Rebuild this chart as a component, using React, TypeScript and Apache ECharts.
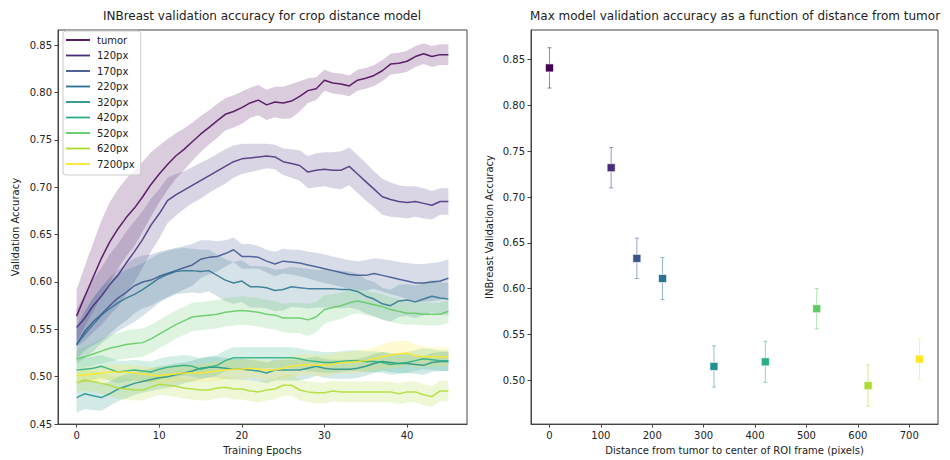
import React, { useEffect, useRef } from "react";
import * as echarts from "echarts";

const FONT = "DejaVu Sans";

const seriesNames = ["tumor", "120px", "170px", "220px", "320px", "420px", "520px", "620px", "7200px"];
const colors = ["#440154", "#472c7a", "#3b528b", "#2c728e", "#21918c", "#28ae80", "#5ec962", "#addc30", "#fde725"];

const tumorMean = [0.564,0.585,0.605,0.625,0.642,0.656,0.668,0.678,0.690,0.703,0.714,0.724,0.733,0.740,0.748,0.756,0.763,0.770,0.777,0.780,0.784,0.789,0.792,0.787,0.790,0.789,0.791,0.796,0.802,0.804,0.813,0.810,0.809,0.807,0.813,0.815,0.818,0.823,0.830,0.831,0.833,0.838,0.841,0.838,0.840,0.840];
const px120Mean = [0.552,0.562,0.575,0.585,0.597,0.607,0.620,0.632,0.645,0.660,0.672,0.686,0.692,0.697,0.702,0.707,0.712,0.717,0.722,0.727,0.730,0.731,0.732,0.733,0.732,0.727,0.725,0.723,0.716,0.718,0.719,0.718,0.718,0.722,0.714,0.706,0.698,0.690,0.687,0.685,0.684,0.685,0.683,0.681,0.685,0.685];
const px170Mean = [0.534,0.548,0.558,0.566,0.575,0.583,0.589,0.596,0.600,0.602,0.606,0.609,0.612,0.615,0.618,0.624,0.626,0.627,0.630,0.634,0.627,0.627,0.626,0.622,0.619,0.622,0.621,0.620,0.618,0.616,0.614,0.612,0.610,0.608,0.607,0.607,0.609,0.607,0.605,0.603,0.601,0.599,0.599,0.600,0.601,0.604];
const px220Mean = [0.534,0.545,0.555,0.565,0.572,0.578,0.583,0.587,0.592,0.598,0.604,0.608,0.611,0.612,0.612,0.611,0.612,0.607,0.602,0.599,0.601,0.595,0.595,0.594,0.591,0.592,0.595,0.594,0.593,0.593,0.593,0.593,0.592,0.592,0.590,0.585,0.582,0.577,0.575,0.580,0.581,0.579,0.582,0.585,0.583,0.582];
const px320Mean = [0.478,0.482,0.480,0.478,0.482,0.487,0.490,0.493,0.495,0.497,0.499,0.500,0.502,0.504,0.506,0.509,0.510,0.510,0.509,0.508,0.508,0.507,0.506,0.504,0.507,0.507,0.507,0.507,0.509,0.511,0.509,0.508,0.508,0.508,0.509,0.511,0.514,0.516,0.515,0.514,0.514,0.513,0.512,0.515,0.516,0.516];
const px420Mean = [0.507,0.508,0.509,0.511,0.508,0.505,0.506,0.507,0.506,0.505,0.508,0.510,0.511,0.512,0.511,0.508,0.510,0.512,0.517,0.520,0.520,0.520,0.520,0.520,0.520,0.520,0.520,0.519,0.517,0.516,0.515,0.515,0.516,0.517,0.517,0.516,0.516,0.515,0.513,0.514,0.515,0.517,0.519,0.518,0.517,0.517];
const px520Mean = [0.519,0.521,0.524,0.527,0.530,0.532,0.534,0.535,0.536,0.540,0.545,0.550,0.555,0.559,0.563,0.564,0.565,0.566,0.568,0.569,0.570,0.569,0.568,0.566,0.565,0.562,0.562,0.562,0.560,0.563,0.571,0.573,0.575,0.578,0.580,0.578,0.576,0.574,0.571,0.569,0.567,0.567,0.566,0.566,0.566,0.569];
const px620Mean = [0.494,0.496,0.495,0.493,0.491,0.488,0.487,0.486,0.486,0.489,0.492,0.491,0.490,0.488,0.487,0.486,0.486,0.488,0.489,0.487,0.487,0.485,0.484,0.486,0.487,0.491,0.491,0.486,0.484,0.483,0.483,0.485,0.484,0.484,0.484,0.484,0.484,0.484,0.484,0.482,0.484,0.484,0.481,0.479,0.485,0.485];
const px7200Mean = [0.501,0.502,0.503,0.504,0.505,0.505,0.505,0.504,0.503,0.502,0.501,0.502,0.503,0.504,0.504,0.504,0.505,0.506,0.507,0.508,0.508,0.509,0.508,0.507,0.507,0.509,0.511,0.512,0.513,0.512,0.512,0.513,0.515,0.515,0.516,0.517,0.519,0.521,0.523,0.524,0.525,0.522,0.521,0.521,0.521,0.521];

const tumorSpread = [0.028,0.032,0.036,0.040,0.042,0.042,0.041,0.040,0.037,0.034,0.030,0.027,0.024,0.022,0.020,0.019,0.018,0.018,0.017,0.017,0.017,0.016,0.016,0.016,0.016,0.017,0.018,0.016,0.013,0.012,0.011,0.011,0.011,0.011,0.011,0.011,0.011,0.011,0.011,0.011,0.011,0.011,0.011,0.011,0.011,0.011];
const px120Spread = [0.020,0.024,0.028,0.030,0.032,0.033,0.033,0.032,0.030,0.028,0.026,0.024,0.022,0.020,0.019,0.019,0.018,0.018,0.018,0.017,0.016,0.015,0.014,0.013,0.013,0.014,0.015,0.016,0.017,0.018,0.018,0.019,0.020,0.020,0.020,0.020,0.019,0.019,0.018,0.017,0.017,0.016,0.016,0.015,0.014,0.014];
const px170Spread = [0.015,0.020,0.025,0.028,0.030,0.030,0.030,0.029,0.028,0.027,0.026,0.025,0.024,0.023,0.022,0.020,0.018,0.016,0.014,0.013,0.013,0.013,0.012,0.012,0.013,0.013,0.013,0.014,0.014,0.015,0.015,0.015,0.015,0.015,0.015,0.016,0.016,0.017,0.018,0.018,0.019,0.020,0.020,0.020,0.020,0.020];
const px220Spread = [0.020,0.025,0.028,0.030,0.030,0.030,0.030,0.029,0.028,0.027,0.026,0.025,0.024,0.024,0.023,0.023,0.022,0.022,0.022,0.022,0.022,0.022,0.022,0.022,0.022,0.022,0.021,0.021,0.021,0.020,0.020,0.020,0.020,0.019,0.019,0.018,0.018,0.017,0.017,0.017,0.017,0.017,0.017,0.017,0.017,0.017];
const px320Spread = [0.016,0.016,0.015,0.014,0.013,0.013,0.013,0.012,0.012,0.012,0.012,0.012,0.012,0.011,0.011,0.011,0.011,0.011,0.011,0.011,0.011,0.011,0.011,0.011,0.011,0.011,0.011,0.011,0.011,0.010,0.010,0.010,0.010,0.010,0.010,0.010,0.010,0.010,0.010,0.010,0.010,0.010,0.010,0.010,0.010,0.010];
const px420Spread = [0.012,0.012,0.012,0.012,0.012,0.012,0.011,0.011,0.011,0.011,0.011,0.011,0.011,0.011,0.011,0.011,0.011,0.011,0.011,0.011,0.011,0.011,0.011,0.011,0.011,0.011,0.011,0.011,0.011,0.011,0.011,0.011,0.011,0.011,0.011,0.011,0.011,0.011,0.011,0.011,0.011,0.011,0.011,0.011,0.011,0.011];
const px520Spread = [0.010,0.011,0.012,0.013,0.014,0.014,0.015,0.015,0.015,0.015,0.015,0.015,0.015,0.015,0.015,0.015,0.015,0.015,0.015,0.015,0.015,0.015,0.015,0.015,0.015,0.015,0.016,0.016,0.017,0.016,0.015,0.014,0.014,0.013,0.013,0.013,0.013,0.013,0.013,0.013,0.012,0.012,0.012,0.012,0.012,0.012];
const px620Spread = [0.011,0.011,0.011,0.011,0.011,0.011,0.011,0.011,0.011,0.011,0.011,0.011,0.011,0.011,0.011,0.011,0.011,0.011,0.011,0.011,0.011,0.011,0.011,0.011,0.011,0.011,0.011,0.011,0.011,0.011,0.011,0.011,0.011,0.011,0.011,0.011,0.011,0.011,0.011,0.011,0.011,0.011,0.011,0.011,0.011,0.011];
const px7200Spread = [0.008,0.008,0.008,0.008,0.008,0.008,0.008,0.008,0.008,0.008,0.009,0.009,0.009,0.009,0.009,0.009,0.010,0.010,0.010,0.010,0.010,0.010,0.010,0.010,0.010,0.010,0.011,0.011,0.011,0.011,0.011,0.011,0.011,0.011,0.012,0.012,0.012,0.013,0.014,0.014,0.013,0.012,0.011,0.010,0.010,0.010];

const means = [tumorMean, px120Mean, px170Mean, px220Mean, px320Mean, px420Mean, px520Mean, px620Mean, px7200Mean];
const spreads = [tumorSpread, px120Spread, px170Spread, px220Spread, px320Spread, px420Spread, px520Spread, px620Spread, px7200Spread];

const distances = [0, 120, 170, 220, 320, 420, 520, 620, 720];
const maxAccuracy = [0.841, 0.732, 0.633, 0.611, 0.515, 0.520, 0.578, 0.494, 0.523];
const maxAccuracyErr = [0.022, 0.022, 0.022, 0.023, 0.0225, 0.0225, 0.022, 0.0225, 0.022];

const leftXTicks = [0, 10, 20, 30, 40];
const leftYTicks = [0.45, 0.5, 0.55, 0.6, 0.65, 0.7, 0.75, 0.8, 0.85];
const rightXTicks = [0, 100, 200, 300, 400, 500, 600, 700];
const rightYTicks = [0.5, 0.55, 0.6, 0.65, 0.7, 0.75, 0.8, 0.85];

function hexToRgba(hex: string, a: number) {
  const n = parseInt(hex.slice(1), 16);
  return `rgba(${(n >> 16) & 255},${(n >> 8) & 255},${n & 255},${a})`;
}

const axisCommon = {
  axisLine: { show: true, onZero: false, lineStyle: { color: "#444", width: 1 } },
  axisTick: { show: true, length: 3.5, lineStyle: { color: "#444" } },
  splitLine: { show: false },
  nameTextStyle: { fontFamily: FONT, fontSize: 10, color: "#222" },
};
const labelCommon = { fontFamily: FONT, fontSize: 10, color: "#222" };

export default function App() {
  const ref = useRef<HTMLDivElement>(null);
  useEffect(() => {
    if (!ref.current) return;
    const chart = echarts.init(ref.current, null, { renderer: "svg" });

    const series: any[] = [];
    means.forEach((m, si) => {
      const sp = spreads[si];
      const color = colors[si];
      series.push({
        type: "line",
        name: seriesNames[si],
        xAxisIndex: 0,
        yAxisIndex: 0,
        data: m.map((v, i) => [i, v]),
        symbol: "none",
        lineStyle: { color, width: 1.5, opacity: 0.85 },
        itemStyle: { color },
        z: 3,
      });
      series.push({
        type: "custom",
        name: seriesNames[si] + " band",
        xAxisIndex: 0,
        yAxisIndex: 0,
        data: m.map((v, i) => [i, v - sp[i], v + sp[i]]),
        z: 2,
        silent: true,
        renderItem: (params: any, api: any) => {
          if (params.dataIndex !== 0) return null;
          const upper = m.map((v, i) => api.coord([i, v + sp[i]]));
          const lower = m.map((v, i) => api.coord([i, v - sp[i]])).reverse();
          return {
            type: "polygon",
            shape: { points: upper.concat(lower) },
            style: { fill: hexToRgba(color, 0.2), stroke: "none" },
          };
        },
      });
    });

    series.push({
      type: "custom",
      name: "errorbars",
      xAxisIndex: 1,
      yAxisIndex: 1,
      data: distances.map((d, i) => [d, maxAccuracy[i], maxAccuracyErr[i], i]),
      z: 3,
      renderItem: (params: any, api: any) => {
        const x = api.value(0);
        const y = api.value(1);
        const e = api.value(2);
        const c = colors[api.value(3)];
        const top = api.coord([x, y + e]);
        const bot = api.coord([x, y - e]);
        const stroke = { stroke: hexToRgba(c, 0.5), lineWidth: 1 };
        return {
          type: "group",
          children: [
            { type: "line", shape: { x1: top[0], y1: top[1], x2: bot[0], y2: bot[1] }, style: stroke },
            { type: "line", shape: { x1: top[0] - 2, y1: top[1], x2: top[0] + 2, y2: top[1] }, style: stroke },
            { type: "line", shape: { x1: bot[0] - 2, y1: bot[1], x2: bot[0] + 2, y2: bot[1] }, style: stroke },
          ],
        };
      },
    });
    series.push({
      type: "scatter",
      name: "max",
      xAxisIndex: 1,
      yAxisIndex: 1,
      symbol: "rect",
      symbolSize: 8,
      z: 4,
      data: distances.map((d, i) => ({
        value: [d, maxAccuracy[i]],
        itemStyle: { color: colors[i], opacity: 1, borderColor: "rgba(255,255,255,0.6)", borderWidth: 1 },
      })),
    });

    chart.setOption({
      animation: false,
      textStyle: { fontFamily: FONT },
      grid: [
        { left: 58, right: 483, top: 30, bottom: 35, show: true, borderColor: "#444", borderWidth: 1, backgroundColor: "transparent" },
        { left: 531, right: 12, top: 30, bottom: 35, show: true, borderColor: "#444", borderWidth: 1, backgroundColor: "transparent" },
      ],
      legend: {
        data: seriesNames,
        orient: "vertical",
        left: 63,
        top: 31,
        padding: [4, 6, 6, 3],
        itemWidth: 24,
        itemHeight: 10,
        itemGap: 5.5,
        icon: "path://M0,0 L24,0 L24,1.8 L0,1.8 Z",
        backgroundColor: "rgba(255,255,255,0.8)",
        borderColor: "#ccc",
        borderWidth: 1,
        borderRadius: 3,
        selectedMode: false,
        textStyle: { fontFamily: FONT, fontSize: 10, color: "#222", padding: [0, 0, 0, 2] },
      },
      xAxis: [
        {
          type: "value",
          gridIndex: 0,
          min: -2.25,
          max: 47.25,
          name: "Training Epochs",
          nameLocation: "middle",
          nameGap: 19,
          ...axisCommon,
          axisTick: { ...axisCommon.axisTick, customValues: leftXTicks },
          axisLabel: { ...labelCommon, margin: 6, customValues: leftXTicks },
        },
        {
          type: "value",
          gridIndex: 1,
          min: -36,
          max: 756,
          name: "Distance from tumor to center of ROI frame (pixels)",
          nameLocation: "middle",
          nameGap: 19,
          ...axisCommon,
          axisTick: { ...axisCommon.axisTick, customValues: rightXTicks },
          axisLabel: { ...labelCommon, margin: 6, customValues: rightXTicks },
        },
      ],
      yAxis: [
        {
          type: "value",
          gridIndex: 0,
          min: 0.45,
          max: 0.866,
          name: "Validation Accuracy",
          nameLocation: "middle",
          nameGap: 38,
          ...axisCommon,
          axisTick: { ...axisCommon.axisTick, customValues: leftYTicks },
          axisLabel: { ...labelCommon, margin: 6, customValues: leftYTicks, formatter: (v: number) => v.toFixed(2) },
        },
        {
          type: "value",
          gridIndex: 1,
          min: 0.452,
          max: 0.8824,
          name: "INBreast Validation Accuracy",
          nameLocation: "middle",
          nameGap: 37,
          ...axisCommon,
          axisTick: { ...axisCommon.axisTick, customValues: rightYTicks },
          axisLabel: { ...labelCommon, margin: 6, customValues: rightYTicks, formatter: (v: number) => v.toFixed(2) },
        },
      ],
      graphic: [
        {
          type: "text",
          x: 262,
          y: 16,
          style: { text: "INBreast validation accuracy for crop distance model", fontFamily: FONT, fontSize: 12, fill: "#222", align: "center", verticalAlign: "middle", textAlign: "center", textVerticalAlign: "middle" },
        },
        {
          type: "text",
          x: 735,
          y: 16,
          style: { text: "Max model validation accuracy as a function of distance from tumor", fontFamily: FONT, fontSize: 12, fill: "#222", align: "center", verticalAlign: "middle", textAlign: "center", textVerticalAlign: "middle" },
        },
      ],
      series,
    });
    return () => chart.dispose();
  }, []);
  return <div ref={ref} style={{ position: "absolute", left: 0, top: 0, width: 950, height: 460, background: "#fff" }} />;
}
